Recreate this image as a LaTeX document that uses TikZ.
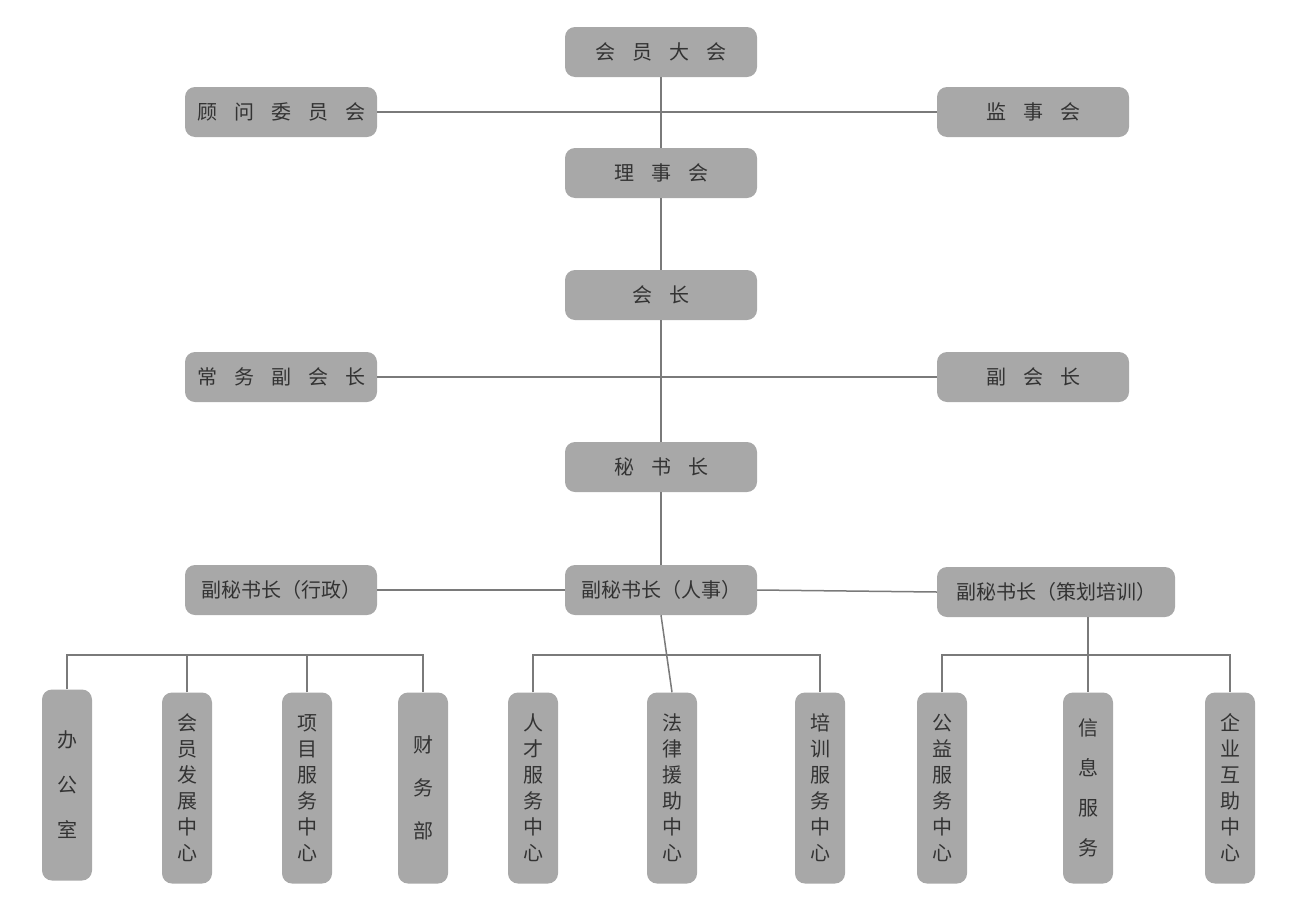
\documentclass[tikz,border=0pt]{standalone}
\usepackage{fontspec}
\setmainfont{Noto Sans CJK SC}
\newcommand{\gp}{\hspace{17pt}}
\definecolor{boxc}{HTML}{A8A8A8}
\definecolor{txtc}{HTML}{333333}
\definecolor{linec}{HTML}{7A7A7A}
\begin{document}
\begin{tikzpicture}[x=1pt,y=-1pt,
  hbox/.style={fill=boxc,rounded corners=10pt,minimum width=192pt,minimum height=50pt,text=txtc,font=\fontsize{20}{24}\selectfont,inner sep=0pt},
  vbox/.style={fill=boxc,rounded corners=10pt,minimum width=50pt,minimum height=191pt,text=txtc,align=center,inner sep=0pt},
  ln/.style={draw=linec,line width=1.5pt}]
\useasboundingbox (0,0) rectangle (1299,913);
\node[hbox] (hy) at (661,52) {会\gp 员\gp 大\gp 会};
\node[hbox] (gw) at (281,112) {顾\gp 问\gp 委\gp 员\gp 会};
\node[hbox] (js) at (1033,112) {监\gp 事\gp 会};
\node[hbox] (ls) at (661,173) {理\gp 事\gp 会};
\node[hbox] (hz) at (661,295) {会\gp 长};
\node[hbox] (cw) at (281,377) {常\gp 务\gp 副\gp 会\gp 长};
\node[hbox] (fh) at (1033,377) {副\gp 会\gp 长};
\node[hbox] (ms) at (661,467) {秘\gp 书\gp 长};
\node[hbox] (xz) at (281,590) {副秘书长（行政）};
\node[hbox] (rs) at (661,590) {副秘书长（人事）};
\node[hbox,minimum width=238pt] (ch) at (1056,592) {副秘书长（策划培训）};
\node[vbox,font=\fontsize{20}{45}\selectfont] (b1) at (67,785) {办\\公\\室};
\node[vbox,font=\fontsize{20}{26}\selectfont] (b2) at (187,788) {会\\员\\发\\展\\中\\心};
\node[vbox,font=\fontsize{20}{26}\selectfont] (b3) at (307,788) {项\\目\\服\\务\\中\\心};
\node[vbox,font=\fontsize{20}{43}\selectfont] (b4) at (423,788) {财\\务\\部};
\node[vbox,font=\fontsize{20}{26}\selectfont] (b5) at (533,788) {人\\才\\服\\务\\中\\心};
\node[vbox,font=\fontsize{20}{26}\selectfont] (b6) at (672,788) {法\\律\\援\\助\\中\\心};
\node[vbox,font=\fontsize{20}{26}\selectfont] (b7) at (820,788) {培\\训\\服\\务\\中\\心};
\node[vbox,font=\fontsize{20}{26}\selectfont] (b8) at (942,788) {公\\益\\服\\务\\中\\心};
\node[vbox,font=\fontsize{20}{40}\selectfont] (b9) at (1088,788) {信\\息\\服\\务};
\node[vbox,font=\fontsize{20}{26}\selectfont] (b10) at (1230,788) {企\\业\\互\\助\\中\\心};
\draw[ln] (hy.south) -- (ls.north);
\draw[ln] (ls.south) -- (hz.north);
\draw[ln] (hz.south) -- (ms.north);
\draw[ln] (ms.south) -- (rs.north);
\draw[ln] (gw.east) -- (js.west);
\draw[ln] (cw.east) -- (fh.west);
\draw[ln] (xz.east) -- (rs.west);
\draw[ln] (rs.east) -- (ch.west);
\coordinate (L1) at (67,655); \coordinate (L2) at (423,655);
\draw[ln] (b1.north) -- (L1) -- (L2) -- (b4.north);
\draw[ln] (b2.north) -- (187,655);
\draw[ln] (b3.north) -- (307,655);
\draw[ln] (b5.north) -- (533,655) -- (820,655) -- (b7.north);
\draw[ln] (rs.south) -- (b6.north);
\draw[ln] (b8.north) -- (942,655) -- (1230,655) -- (b10.north);
\draw[ln] (ch.south -| b9.north) -- (b9.north);
\end{tikzpicture}
\end{document}
